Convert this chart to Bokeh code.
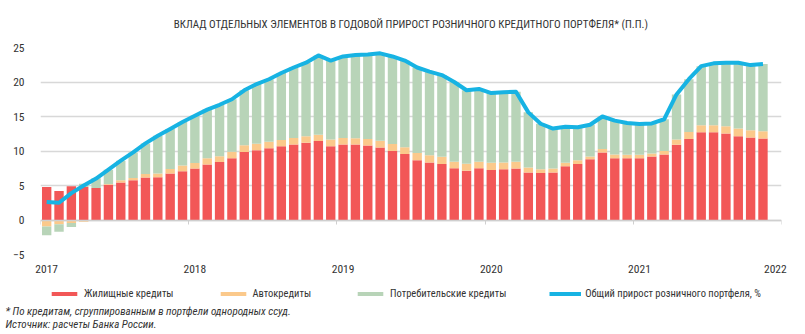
import numpy as np
from bokeh.plotting import figure
from bokeh.layouts import column
from bokeh.models import (Range1d, FixedTicker, Legend, LegendItem, Title, Label,
                          LinearAxis, ColumnDataSource)
from bokeh.embed import file_html
from bokeh.resources import INLINE

# ---- data (monthly, Jan 2017 .. Nov 2021), percentage points ----
housing = [4.8, 4.2, 4.9, 4.8, 4.65, 5.1, 5.45, 5.75, 6.15, 6.2, 6.75, 7.05,
           7.45, 8.05, 8.4, 8.95, 9.85, 10.1, 10.4, 10.7, 10.95, 11.2, 11.45, 10.7,
           10.95, 10.95, 10.8, 10.5, 10.0, 9.55, 8.65, 8.35, 8.1, 7.5, 7.15, 7.5,
           7.25, 7.35, 7.45, 6.9, 6.8, 6.9, 7.8, 8.1, 8.8, 9.8, 8.95, 8.95,
           8.95, 9.2, 9.5, 10.9, 11.75, 12.7, 12.7, 12.55, 12.15, 11.95, 11.8]
auto = [-0.95, -0.6, -0.45, -0.25, -0.05, 0.1, 0.3, 0.35, 0.5, 0.55, 0.65, 0.85,
        0.8, 0.9, 0.85, 0.95, 1.0, 0.95, 0.95, 0.9, 0.95, 0.95, 0.9, 0.95,
        0.95, 0.9, 0.95, 1.0, 1.0, 1.0, 1.05, 1.05, 1.05, 0.95, 1.0, 0.95,
        1.05, 1.0, 1.0, 0.7, 0.55, 0.55, 0.5, 0.55, 0.4, 0.5, 0.55, 0.5,
        0.5, 0.45, 0.5, 0.75, 1.0, 1.05, 1.05, 1.05, 1.1, 1.05, 1.05]
consumer = [-1.25, -1.1, -0.55, 0.45, 1.4, 2.1, 2.85, 3.7, 4.45, 5.45, 5.8, 6.3,
            6.85, 7.05, 7.45, 7.6, 7.95, 8.65, 9.05, 9.7, 10.2, 10.65, 11.5, 11.45,
            11.8, 12.05, 12.25, 12.65, 12.7, 12.55, 12.4, 12.1, 11.85, 11.55, 10.65, 10.55,
            10.1, 10.15, 10.15, 8.0, 6.6, 5.8, 5.2, 4.8, 4.6, 4.7, 4.9, 4.6,
            4.45, 4.35, 4.6, 6.55, 7.65, 8.55, 8.95, 9.2, 9.55, 9.45, 9.75]
total = [2.6, 2.5, 3.9, 5.0, 6.0, 7.3, 8.6, 9.8, 11.1, 12.2, 13.2, 14.2,
         15.1, 16.0, 16.7, 17.5, 18.8, 19.7, 20.4, 21.3, 22.1, 22.8, 23.85, 23.1,
         23.7, 23.9, 24.0, 24.15, 23.7, 23.1, 22.1, 21.5, 21.0, 20.0, 18.8, 19.0,
         18.4, 18.5, 18.6, 15.6, 13.95, 13.25, 13.5, 13.45, 13.8, 15.0, 14.4, 14.05,
         13.9, 14.0, 14.6, 18.2, 20.4, 22.3, 22.7, 22.8, 22.8, 22.45, 22.6]
years = ["2017", "2018", "2019", "2020", "2021", "2022"]
series_names = ["Жилищные кредиты", "Автокредиты", "Потребительские кредиты"]
line_name = "Общий прирост розничного портфеля, %"
title = "ВКЛАД ОТДЕЛЬНЫХ ЭЛЕМЕНТОВ В ГОДОВОЙ ПРИРОСТ РОЗНИЧНОГО КРЕДИТНОГО ПОРТФЕЛЯ* (П.П.)"
note1 = "* По кредитам, сгруппированным в портфели однородных ссуд."
note2 = "Источник: расчеты Банка России."

colors = ["#F25757", "#FBC98B", "#B8D4B8"]
line_color = "#17B3E3"
FONT = "Liberation Sans Narrow, Roboto Condensed, DejaVu Sans Condensed, Roboto, sans-serif"
TXT = "#333333"

n = len(housing)
x = np.arange(n) + 0.5
n_months = 12 * (len(years) - 1)

# ---------------- main chart ----------------
p = figure(width=805, height=280, output_backend="svg", toolbar_location=None,
           x_range=Range1d(0, n_months), y_range=Range1d(-5, 25),
           min_border_left=40, min_border_right=24, min_border_top=45,
           min_border_bottom=26, outline_line_color=None)

p.xgrid.visible = False
p.ygrid.ticker = FixedTicker(ticks=[-5, 0, 5, 10, 15, 20, 25])
p.ygrid.grid_line_color = "#D8D8D8"
p.ygrid.grid_line_width = 1.3

pos_base = np.zeros(n)
neg_base = np.zeros(n)
for vals, col in zip([housing, auto, consumer], colors):
    v = np.array(vals, dtype=float)
    bottom = np.where(v >= 0, pos_base, neg_base)
    top = bottom + v
    pos_base = np.where(v >= 0, top, pos_base)
    neg_base = np.where(v < 0, top, neg_base)
    src = ColumnDataSource(dict(x=x, bottom=bottom, top=top))
    p.vbar(x="x", bottom="bottom", top="top", width=0.76, source=src,
           fill_color=col, line_color=None)

p.line(x, total, line_color=line_color, line_width=4, line_join="round")

p.yaxis.ticker = FixedTicker(ticks=[-5, 0, 5, 10, 15, 20, 25])
p.yaxis.axis_line_color = None
p.yaxis.major_tick_line_color = None
p.yaxis.minor_tick_line_color = None
p.yaxis.major_label_standoff = 10
p.yaxis.major_label_text_font = FONT
p.yaxis.major_label_text_font_size = "11.5px"
p.yaxis.major_label_text_color = TXT

label_pos = [12 * i + 0.5 for i in range(len(years) - 1)] + [n_months - 0.5]
p.xaxis.ticker = FixedTicker(ticks=label_pos)
p.xaxis.major_label_overrides = {t: y for t, y in zip(label_pos, years)}
p.xaxis.axis_line_color = None
p.xaxis.major_tick_line_color = None
p.xaxis.minor_tick_line_color = None
p.xaxis.major_label_standoff = 4
p.xaxis.major_label_text_font = FONT
p.xaxis.major_label_text_font_size = "11.5px"
p.xaxis.major_label_text_color = TXT

year_ticks = [12 * i for i in range(len(years))]
ax0 = LinearAxis(fixed_location=0, ticker=FixedTicker(ticks=year_ticks),
                 major_label_overrides={t: "" for t in year_ticks},
                 axis_line_color="#CFCFCF", axis_line_width=1.3,
                 major_tick_line_color="#CFCFCF", major_tick_out=4, major_tick_in=0,
                 minor_tick_line_color=None)
p.add_layout(ax0, "below")

p.add_layout(Title(text=title, align="center", vertical_align="middle",
                   text_font=FONT, text_font_size="11px", text_font_style="normal",
                   text_color=TXT, standoff=32), "above")

# ---------------- legend + footnotes strip ----------------
q = figure(width=805, height=54, output_backend="svg", toolbar_location=None,
           x_range=Range1d(0, 805), y_range=Range1d(0, 54),
           x_axis_type=None, y_axis_type=None, min_border=0,
           outline_line_color=None)
q.grid.visible = False
for fig in (p, q):
    if "frame_align" in fig.properties():
        fig.frame_align = False

# legend key proxies, placed outside the visible range of the strip
key_renderers = []
for col in colors:
    key_renderers.append(q.vbar(x=[-500], bottom=[-500], top=[-499], width=1,
                                fill_color=col, line_color=None))
key_renderers.append(q.line(x=[-500, -499], y=[-500, -500], line_color=line_color,
                            line_width=4))

items = [LegendItem(label=nm, renderers=[r])
         for nm, r in zip(series_names + [line_name], key_renderers)]
leg = Legend(items=items, orientation="horizontal", location=(48, 34),
             glyph_width=32, glyph_height=5, label_height=12, label_standoff=4,
             spacing=43, padding=0, margin=0, border_line_color=None,
             background_fill_alpha=0, label_text_font=FONT,
             label_text_font_size="10.5px", label_text_color=TXT)
q.add_layout(leg, "center")

for txt, yy in [(note1, 23), (note2, 10)]:
    q.add_layout(Label(x=5, y=yy, text=txt, text_baseline="middle",
                       text_font=FONT, text_font_style="italic",
                       text_font_size="11px", text_color=TXT))

page = column(p, q, spacing=0)
open("out.html", "w").write(file_html(page, INLINE))
